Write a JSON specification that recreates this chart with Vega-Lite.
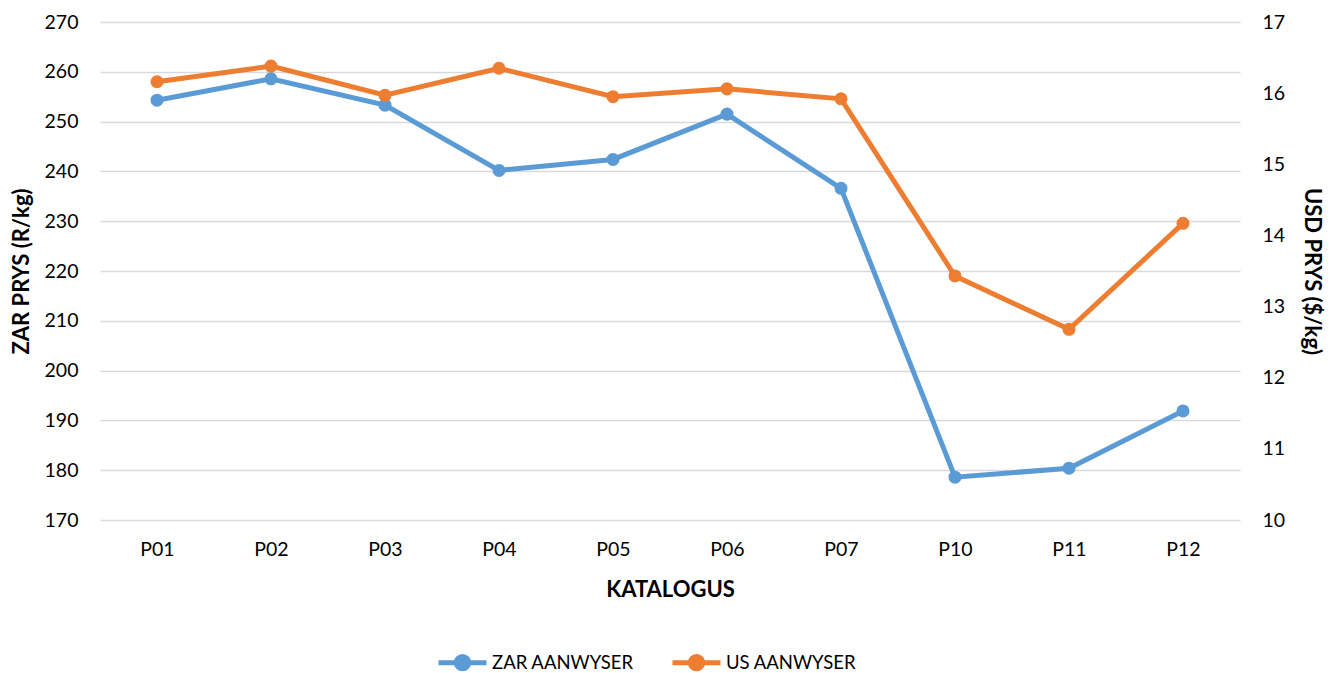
{
  "$schema": "https://vega.github.io/schema/vega-lite/v6.json",
  "width": 1140,
  "height": 498,
  "autosize": "none",
  "padding": {"left": 100, "top": 22, "right": 99, "bottom": 153},
  "background": "white",
  "config": {
    "view": {"stroke": null},
    "font": "Lato",
    "axis": {"labelFont": "Lato", "titleFont": "Lato", "labelColor": "#000000", "titleColor": "#000000", "labelFontSize": 19.5, "titleFontSize": 22, "titleFontWeight": "bold", "ticks": false, "domain": false}
  },
  "data": {
    "values": [
      {"cat": "P01", "zar": 254.3, "usd": 16.16},
      {"cat": "P02", "zar": 258.6, "usd": 16.38},
      {"cat": "P03", "zar": 253.3, "usd": 15.97},
      {"cat": "P04", "zar": 240.2, "usd": 16.35},
      {"cat": "P05", "zar": 242.4, "usd": 15.95},
      {"cat": "P06", "zar": 251.5, "usd": 16.06},
      {"cat": "P07", "zar": 236.6, "usd": 15.92},
      {"cat": "P10", "zar": 178.6, "usd": 13.43},
      {"cat": "P11", "zar": 180.4, "usd": 12.68},
      {"cat": "P12", "zar": 191.9, "usd": 14.17}
    ]
  },
  "encoding": {
    "x": {
      "field": "cat", "type": "ordinal", "sort": null,
      "scale": {"type": "point", "padding": 0.5},
      "axis": {"title": "KATALOGUS", "labelAngle": 0, "labelPadding": 20, "titlePadding": 21, "grid": false}
    }
  },
  "layer": [
    {
      "mark": {"type": "line", "strokeWidth": 5, "point": {"filled": true, "size": 170, "opacity": 1}},
      "encoding": {
        "y": {
          "field": "zar", "type": "quantitative",
          "scale": {"domain": [170, 270], "nice": false, "zero": false},
          "axis": {"title": "ZAR PRYS (R/kg)", "values": [170, 180, 190, 200, 210, 220, 230, 240, 250, 260, 270], "grid": true, "gridColor": "#d9d9d9", "gridWidth": 1.5, "labelPadding": 22, "titlePadding": 11}
        },
        "color": {
          "datum": "ZAR AANWYSER",
          "type": "nominal",
          "scale": {"domain": ["ZAR AANWYSER", "US AANWYSER"], "range": ["#5B9BD5", "#ED7D31"]},
          "legend": {
            "title": null,
            "orient": "none",
            "direction": "horizontal",
            "legendX": 336,
            "legendY": 614,
            "labelFont": "Lato",
            "labelFontSize": 18.5,
            "labelColor": "#000000",
            "symbolType": "M-1,0L1,0M0.26,0A0.26,0.26 0 1 1 -0.26,0A0.26,0.26 0 1 1 0.26,0Z",
            "symbolSize": 2304,
            "symbolStrokeWidth": 5,
            "labelOffset": 3,
            "columnPadding": 28,
            "encode": {"symbols": {"update": {"fill": {"scale": "color", "field": "value"}, "stroke": {"scale": "color", "field": "value"}, "opacity": {"value": 1}}}}
          }
        }
      }
    },
    {
      "mark": {"type": "line", "strokeWidth": 5, "point": {"filled": true, "size": 170, "opacity": 1}},
      "encoding": {
        "y": {
          "field": "usd", "type": "quantitative",
          "scale": {"domain": [10, 17], "nice": false, "zero": false},
          "axis": {"title": "USD PRYS ($/kg)", "orient": "right", "values": [10, 11, 12, 13, 14, 15, 16, 17], "grid": false, "labelPadding": 22, "titlePadding": 15}
        },
        "color": {"datum": "US AANWYSER", "type": "nominal"}
      }
    }
  ],
  "resolve": {"scale": {"y": "independent"}}
}
